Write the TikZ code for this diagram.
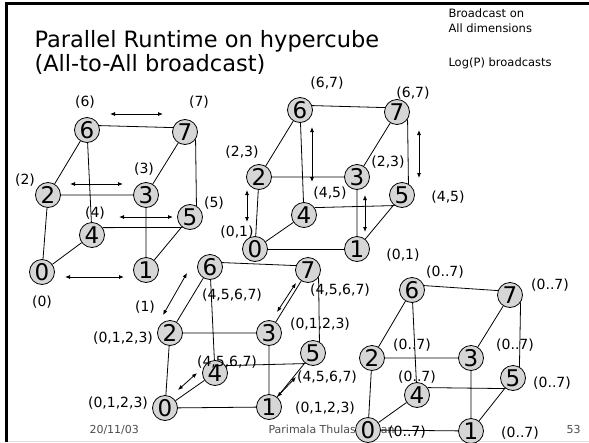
\documentclass[tikz,border=0pt]{standalone}
\usepackage{fontspec}
\setmainfont{DejaVu Sans}
\usepackage{tikz}
\usetikzlibrary{arrows.meta}
\definecolor{procgray}{RGB}{214,214,214}

\begin{document}
\begin{tikzpicture}[x=1pt,y=-1pt,
  proc/.style={circle,draw,line width=0.8pt,fill=procgray,inner sep=0pt,minimum size=25pt,font=\fontsize{23}{23}\selectfont},
  lab/.style={font=\fontsize{14}{14}\selectfont},
  note/.style={anchor=base west,font=\fontsize{11.5}{11.5}\selectfont},
  foot/.style={anchor=base west,text=black!70,font=\fontsize{11}{11}\selectfont},
  bcast/.style={{Latex[length=5pt,width=4pt]}-{Latex[length=5pt,width=4pt]},line width=0.8pt},
  cubeline/.style={line width=0.8pt}]
\useasboundingbox (0,0) rectangle (589,442);

% slide frame
\draw[line width=3pt] (6.7,3.3) -- (589,3.3);
\draw[line width=3.3pt] (6.7,2) -- (6.7,442);
\draw[black!12] (8,441.5) -- (589,441.5);

% title and notes
\node[anchor=base west,font=\fontsize{22.5}{26}\selectfont] (title1) at (31,47) {Parallel Runtime on hypercube};
\node[anchor=base west,font=\fontsize{22.5}{26}\selectfont] (title2) at (31,71) {(All-to-All broadcast)};
\node[note] (bcast1) at (445,17) {Broadcast on};
\node[note] (bcast2) at (445,32) {All dimensions};
\node[note] (logp) at (445,66) {Log(P) broadcasts};

% footer
\node[foot] (date) at (86,433) {20/11/03};
\node[foot] (author) at (265,433) {Parimala Thulasiraman};
\node[foot] (page) at (563,433) {53};

% step 1
\node[proc] (a0) at (42,272) {0};
\node[proc] (a1) at (146,270) {1};
\node[proc] (a2) at (48,195) {2};
\node[proc] (a3) at (146,195) {3};
\node[proc] (a4) at (92,235) {4};
\node[proc] (a5) at (190,217) {5};
\node[proc] (a6) at (87,130) {6};
\node[proc] (a7) at (185,132) {7};

% step 2
\node[proc] (b0) at (255,249) {0};
\node[proc] (b1) at (357,249) {1};
\node[proc] (b2) at (259,177) {2};
\node[proc] (b3) at (357,177) {3};
\node[proc] (b4) at (304,215) {4};
\node[proc] (b5) at (402,195) {5};
\node[proc] (b6) at (300,110) {6};
\node[proc] (b7) at (397,112) {7};

% step 3
\node[proc] (c0) at (165,408) {0};
\node[proc] (c1) at (269,407) {1};
\node[proc] (c2) at (170,333) {2};
\node[proc] (c3) at (269,333) {3};
\node[proc] (c4) at (215,373) {4};
\node[proc] (c5) at (313,353) {5};
\node[proc] (c6) at (210,267) {6};
\node[proc] (c7) at (308,270) {7};

% final
\node[proc] (d0) at (368,430) {0};
\node[proc] (d1) at (471,431) {1};
\node[proc] (d2) at (372,358) {2};
\node[proc] (d3) at (471,358) {3};
\node[proc] (d4) at (417,395) {4};
\node[proc] (d5) at (513,378) {5};
\node[proc] (d6) at (412,290) {6};
\node[proc] (d7) at (510,295) {7};

% cube edges
\foreach \c in {a,b,c,d}
  \draw[cubeline] (\c6.20) -- (\c7.160) (\c6) -- (\c2) (\c7) -- (\c3)
    (\c2) -- (\c3) (\c6) -- (\c4) (\c7.-35) -- (\c5.60) (\c2) -- (\c0)
    (\c3) -- (\c1) (\c4.35) -- (\c5.235) (\c0) -- (\c4) (\c1) -- (\c5);
\foreach \c in {b,c,d}
  \draw[cubeline] (\c0) -- (\c1);

% exchanges
\draw[bcast] (110,114) -- (163,114);
\draw[bcast] (70,184) -- (123,184);
\draw[bcast] (119,217) -- (173,217);
\draw[bcast] (65,277) -- (124,277);

\draw[bcast] (312,127) -- (312,182);
\draw[bcast] (247,190) -- (247,222);
\draw[bcast] (365,195) -- (365,232);
\draw[bcast] (419,130) -- (419,178);

\draw[bcast] (163,315) -- (187,273);
\draw[bcast] (178,390) -- (197,373);
\draw[bcast] (277,312) -- (296,283);
\draw[bcast] (277,397) -- (296,377);

% messages held
\node[lab] (la6) at (85,102) {(6)};
\node[lab] (la7) at (199,102) {(7)};
\node[lab] (la2) at (25,180) {(2)};
\node[lab] (la3) at (144,169) {(3)};
\node[lab] (la4) at (95,213) {(4)};
\node[lab] (la5) at (214,203) {(5)};
\node[lab] (la0) at (42,302) {(0)};
\node[lab] (la1) at (145,307) {(1)};

\node[lab] (lb6) at (327,83) {(6,7)};
\node[lab] (lb7) at (413,93) {(6,7)};
\node[lab] (lb2) at (242,152) {(2,3)};
\node[lab] (lb3) at (388,162) {(2,3)};
\node[lab] (lb4) at (330,193) {(4,5)};
\node[lab] (lb5) at (448,197) {(4,5)};
\node[lab] (lb0) at (237,232) {(0,1)};
\node[lab] (lb1) at (403,255) {(0,1)};

\node[lab] (lc6) at (232,295) {(4,5,6,7)};
\node[lab] (lc7) at (340,290) {(4,5,6,7)};
\node[lab] (lc2) at (123,338) {(0,1,2,3)};
\node[lab] (lc3) at (320,324) {(0,1,2,3)};
\node[lab] (lc4) at (227,362) {(4,5,6,7)};
\node[lab] (lc5) at (327,377) {(4,5,6,7)};
\node[lab] (lc0) at (118,403) {(0,1,2,3)};
\node[lab] (lc1) at (325,408) {(0,1,2,3)};

\node[lab] (ld6) at (445,272) {(0..7)};
\node[lab] (ld7) at (550,285) {(0..7)};
\node[lab] (ld2) at (412,345) {(0..7)};
\node[lab] (ld3) at (515,345) {(0..7)};
\node[lab] (ld4) at (417,377) {(0..7)};
\node[lab] (ld5) at (552,383) {(0..7)};
\node[lab] (ld0) at (407,432) {(0..7)};
\node[lab] (ld1) at (520,433) {(0..7)};
\end{tikzpicture}
\end{document}
